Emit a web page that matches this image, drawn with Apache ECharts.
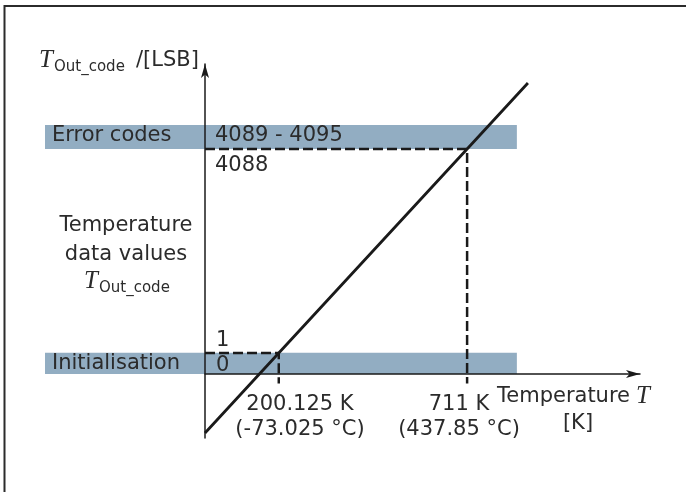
<!DOCTYPE html>
<html>
<head>
<meta charset="utf-8">
<script src="https://cdn.jsdelivr.net/npm/echarts@6/dist/echarts.min.js"></script>
<style>
  html, body { margin: 0; padding: 0; background: #fff; }
  #chart { width: 686px; height: 492px; }
</style>
</head>
<body>
<div id="chart"></div>
<script>
// marked temperatures [K] and the code reached there [LSB]
const markTemps = [200.125, 711];
const markCodes = [1, 4088];
const markKelvin = ['200.125 K', '711 K'];
const markCelsius = ['(-73.025 °C)', '(437.85 °C)'];
const tickEnd = -610; // dashed guides run a bit below the T axis

// transfer line T -> T_Out_code
const lineTemps = [0, 200.125, 711, 876];
const lineCodes = [-1600, 1, 4088, 5410];

// code bands (temperature extent, code extent)
const bandNames = ['Error codes', 'Initialisation'];
const bandTemps = [[-434, 846], [-434, 846]];
const bandCodes = [[4088, 4570], [-420, 8]];

const INK = '#1a1a1a';
const TXT = '#2b2b2b';
const SANS = '"DejaVu Sans", sans-serif';
const SERIF = 'italic 25px "Liberation Serif", serif';

const myChart = echarts.init(document.getElementById('chart'));

function txt(text, x, y, align, font) {
  return {
    type: 'text', x: x, y: y, z: 20,
    style: {
      text: text, fill: TXT, align: align || 'left', verticalAlign: 'middle',
      font: font || ('21px ' + SANS)
    }
  };
}

const guides = markTemps.map(function (t, i) {
  return {
    type: 'line',
    data: [[0, markCodes[i]], [t, markCodes[i]], [t, tickEnd]],
    symbol: 'none',
    silent: true,
    z: 3,
    lineStyle: { color: INK, width: 2.5, type: [10, 4] }
  };
});

const option = {
  animation: false,
  grid: { left: 205, right: 46, top: 64, bottom: 54, outerBoundsMode: 'none' },
  xAxis: {
    type: 'value', min: 0, max: 1180, z: 5,
    offset: -64, // T axis sits at the foot of the initialisation band
    axisLine: {
      show: true, onZero: false,
      symbol: ['none', 'arrow'], symbolSize: [6, 14],
      lineStyle: { color: INK, width: 1.5 }
    },
    axisTick: { show: false },
    axisLabel: { show: false },
    splitLine: { show: false }
  },
  yAxis: {
    type: 'value', min: -1700, max: 5790, z: 5,
    axisLine: {
      show: true, onZero: false,
      symbol: ['none', 'arrow'], symbolSize: [6, 14],
      lineStyle: { color: INK, width: 1.5 }
    },
    axisTick: { show: false },
    axisLabel: { show: false },
    splitLine: { show: false }
  },
  series: [
    {
      type: 'custom',
      clip: false,
      silent: true,
      z: 1,
      data: bandNames.map(function (n, i) {
        return [bandTemps[i][0], bandTemps[i][1], bandCodes[i][0], bandCodes[i][1]];
      }),
      renderItem: function (params, api) {
        const a = api.coord([api.value(0), api.value(3)]);
        const b = api.coord([api.value(1), api.value(2)]);
        return {
          type: 'rect',
          shape: { x: a[0], y: a[1], width: b[0] - a[0], height: b[1] - a[1] },
          style: { fill: '#92adc2' }
        };
      }
    },
    {
      type: 'line',
      data: lineTemps.map(function (t, i) { return [t, lineCodes[i]]; }),
      symbol: 'none',
      silent: true,
      z: 4,
      lineStyle: { color: INK, width: 2.8 }
    }
  ].concat(guides),
  graphic: [
    {
      type: 'rect', z: 0, silent: true,
      shape: { x: 4.5, y: 6, width: 720, height: 520 },
      style: { fill: 'none', stroke: '#2b2b2b', lineWidth: 2 }
    },
    // y axis name
    txt('T', 39, 60.5, 'left', SERIF),
    txt('Out_code', 54, 67, 'left', '15px ' + SANS),
    txt('/[LSB]', 136, 60.7),
    // band texts
    txt(bandNames[0], 52, 136),
    txt('4089 - 4095', 215, 136),
    txt(String(markCodes[1]), 215, 165.4),
    txt(bandNames[1], 52, 363.4),
    txt(String(markCodes[0]), 216, 341),
    txt('0', 216, 366),
    // middle description
    txt('Temperature', 126, 226, 'center'),
    txt('data values', 126, 254.4, 'center'),
    txt('T', 84, 281, 'left', SERIF),
    txt('Out_code', 99, 288, 'left', '15px ' + SANS),
    // temperature marks
    txt(markKelvin[0], 300, 405, 'center'),
    txt(markCelsius[0], 300, 430, 'center'),
    txt(markKelvin[1], 459, 405, 'center'),
    txt(markCelsius[1], 459, 430, 'center'),
    // x axis name
    txt('Temperature', 497, 397),
    txt('T', 636, 396.5, 'left', SERIF),
    txt('[K]', 578, 424, 'center')
  ]
};

myChart.setOption(option);
window.addEventListener('resize', function () {
  myChart.resize();
});
</script>
</body>
</html>
